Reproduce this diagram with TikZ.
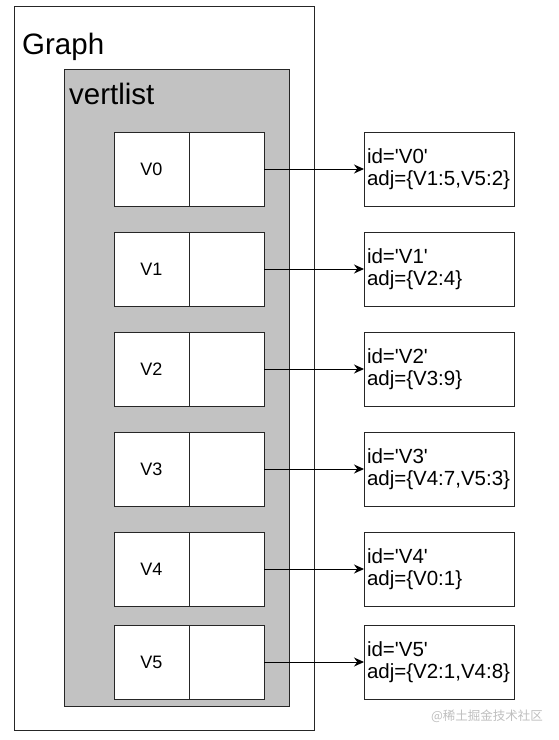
\documentclass[tikz,border=0pt]{standalone}
\usepackage{fontspec}
\setmainfont{Liberation Sans}
\newfontfamily\cjk{Noto Sans CJK SC}
\usetikzlibrary{arrows.meta}
\definecolor{linec}{HTML}{262626}
\definecolor{listgray}{HTML}{C2C2C2}
\newcommand{\sq}{\textquotesingle}
\begin{document}
\begin{tikzpicture}[x=1pt,y=-1pt,
  frame/.style={draw=linec,line width=1pt,anchor=north west,inner sep=0pt,outer sep=0pt},
  cell/.style={frame,fill=white,minimum width=75pt,minimum height=74pt,font=\fontsize{18}{20}\selectfont},
  info/.style={frame,fill=white,minimum width=150pt,minimum height=74pt,text width=144pt,inner xsep=3pt,align=left,font=\fontsize{20.5}{22.5}\selectfont},
  title/.style={anchor=base west,inner sep=0pt,font=\fontsize{29.5}{34}\selectfont},
  link/.style={draw=black,line width=1pt,-{Stealth[length=10pt,width=9pt]}}]
\useasboundingbox (0,0) rectangle (559,740);
\fill[white] (0,0) rectangle (559,740);
\node[frame,minimum width=300pt,minimum height=724pt] (graph) at (14,6) {};
\node[title] (graphlbl) at (22,54) {Graph};
\node[frame,fill=listgray,minimum width=225pt,minimum height=637pt] (vertlist) at (64,69) {};
\node[title] (vertlbl) at (69,104) {vertlist};
\foreach \i/\y/\adj in {0/132/{V1:5,V5:2},1/232/{V2:4},2/332/{V3:9},3/432/{V4:7,V5:3},4/532/{V0:1},5/625/{V2:1,V4:8}}{
  \node[cell] (k\i) at (114,\y) {V\i};
  \node[cell] (p\i) at (189,\y) {};
  \node[info] (v\i) at (364,\y) {id=\sq V\i\sq\\adj=\{\adj\}};
  \draw[link] (p\i.east) -- (v\i.west);
}
\node[anchor=center,inner sep=0pt,text=black!25,font=\cjk\fontsize{12.5}{14}\selectfont] (wm) at (487,716) {@稀土掘金技术社区};
\end{tikzpicture}
\end{document}
